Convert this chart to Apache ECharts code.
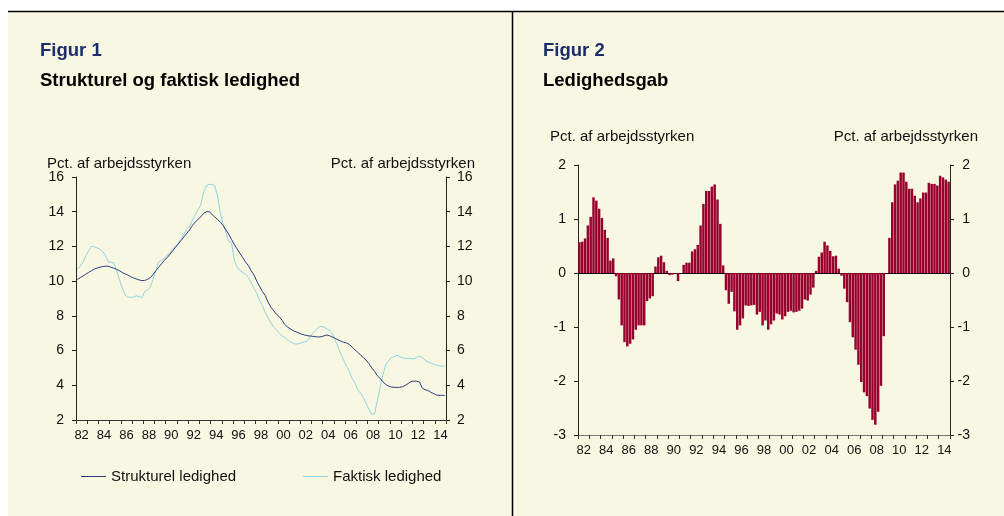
<!DOCTYPE html>
<html><head><meta charset="utf-8">
<script src="https://cdn.jsdelivr.net/npm/echarts@6/dist/echarts.min.js"></script>
<style>html,body{margin:0;padding:0;background:#fff}#c{width:1004px;height:516px}</style>
</head><body><div id="c"></div>
<script>
const yearLabels = ['82','83','84','85','86','87','88','89','90','91','92','93','94','95','96','97','98','99','00','01','02','03','04','05','06','07','08','09','10','11','12','13','14'];
const yTicksLeft = [2, 16, 2];   // min, max, interval
const yTicksGap = [-3, 2, 1];

// Strukturel ledighed, quarterly 1982K1-2014K4
const structural = [
 10.1,10.2,10.3,10.4, 10.5,10.6,10.7,10.75, 10.8,10.84,10.86,10.86, 10.8,10.74,10.68,10.6,
 10.5,10.42,10.35,10.26, 10.18,10.13,10.07,10.03, 10.04,10.1,10.2,10.38, 10.6,10.8,11.0,11.2,
 11.35,11.55,11.75,11.95, 12.15,12.35,12.55,12.75, 12.95,13.2,13.4,13.55, 13.7,13.9,14.0,14.0,
 13.85,13.7,13.55,13.4, 13.2,12.95,12.7,12.4, 12.1,11.85,11.6,11.35, 11.1,10.9,10.6,10.35,
 10.0,9.7,9.4,9.17, 8.8,8.5,8.3,8.1, 7.95,7.75,7.5,7.35, 7.25,7.15,7.08,7.01,
 6.95,6.9,6.86,6.84, 6.82,6.8,6.78,6.8, 6.85,6.9,6.85,6.78, 6.7,6.62,6.55,6.47,
 6.44,6.35,6.2,6.05, 5.9,5.75,5.6,5.45, 5.25,5.0,4.8,4.55, 4.4,4.2,4.05,3.95,
 3.9,3.88,3.88,3.88, 3.92,4.0,4.1,4.22, 4.24,4.23,4.2,3.85, 3.75,3.7,3.6,3.53,
 3.45,3.42,3.42,3.42
];
// Faktisk ledighed, quarterly 1982K1-2014K4
const actual = [
 10.7,10.85,11.1,11.45, 11.75,12.0,11.98,11.92, 11.85,11.7,11.5,11.1, 11.1,11.05,10.6,10.1,
 9.6,9.2,9.08,9.07, 9.08,9.16,9.1,9.04, 9.4,9.5,9.65,10.1, 10.6,11.1,11.2,11.3,
 11.5,11.6,11.85,12.0, 12.2,12.4,12.7,13.0, 13.15,13.5,13.8,14.1, 14.4,15.1,15.5,15.57,
 15.58,15.5,14.9,13.9, 13.3,12.8,12.3,12.2, 11.2,10.8,10.6,10.5, 10.4,10.2,9.9,9.6,
 9.3,8.9,8.6,8.2, 7.9,7.6,7.35,7.2, 7.0,6.85,6.75,6.6, 6.5,6.42,6.37,6.4,
 6.45,6.5,6.55,6.8, 7.0,7.15,7.35,7.4, 7.35,7.25,7.15,6.95, 6.6,6.2,5.8,5.45,
 5.1,4.8,4.4,4.15, 3.75,3.55,3.3,2.95, 2.6,2.33,2.35,3.1, 3.9,4.6,5.2,5.4,
 5.6,5.65,5.73,5.65, 5.58,5.55,5.54,5.54, 5.52,5.6,5.67,5.62, 5.45,5.35,5.29,5.22,
 5.16,5.12,5.1,5.1
];
// Ledighedsgab, quarterly 1982K1-2014K4
const gap = [
 0.57,0.58,0.64,0.88, 1.04,1.40,1.34,1.19, 1.02,0.80,0.65,0.23, 0.27,-0.06,-0.49,-0.97,
 -1.28,-1.36,-1.31,-1.23, -1.05,-0.97,-0.97,-0.97, -0.52,-0.47,-0.43,0.12, 0.29,0.32,0.20,0.04,
 -0.04,-0.03,-0.01,-0.15, 0.0,0.15,0.19,0.19, 0.40,0.44,0.52,0.88, 1.28,1.52,1.52,1.60,
 1.64,1.36,0.91,0.14, -0.32,-0.57,-0.35,-0.71, -1.05,-0.97,-0.84,-0.60, -0.61,-0.60,-0.59,-0.77,
 -0.72,-0.97,-0.88,-1.05, -0.95,-0.88,-0.75,-0.77, -0.86,-0.80,-0.72,-0.70, -0.73,-0.72,-0.70,-0.66,
 -0.49,-0.51,-0.40,-0.27, 0.04,0.30,0.38,0.58, 0.51,0.41,0.31,0.32, 0.08,-0.05,-0.29,-0.54,
 -0.91,-1.19,-1.42,-1.70, -2.02,-2.21,-2.28,-2.51, -2.72,-2.81,-2.57,-2.09, -1.17,0.0,0.65,1.31,
 1.64,1.71,1.86,1.86, 1.69,1.56,1.56,1.43, 1.31,1.38,1.49,1.49, 1.67,1.65,1.65,1.62,
 1.80,1.77,1.73,1.69
];

const quarters = [];
yearLabels.forEach(y => { for (let q = 1; q <= 4; q++) quarters.push(y + 'K' + q); });

const FONT = '"Liberation Sans", Arial, sans-serif';
const TXT = '#111111';
const CREAM = '#f8f7e1';
const C_STRUCT = '#2b3c7c';
const C_ACTUAL = '#8fd3e8';

function yearAxis(grid, lineColor) {
  return {
    type: 'category', gridIndex: grid, data: yearLabels, boundaryGap: true, position: 'bottom',
    axisLine: { show: true, onZero: false, lineStyle: { color: lineColor, width: 1 } },
    axisTick: { show: true, interval: 0, length: 4, lineStyle: { color: '#333' } },
    axisLabel: { interval: 1, fontSize: 13, color: TXT, margin: 9, fontFamily: FONT },
    splitLine: { show: false }
  };
}
function valAxis(grid, pos, t, labelExtra) {
  return Object.assign({
    type: 'value', gridIndex: grid, position: pos, min: t[0], max: t[1], interval: t[2],
    axisLine: { show: true, lineStyle: { color: '#222', width: 1 } },
    axisTick: { show: true, length: 4, lineStyle: { color: '#222' } },
    splitLine: { show: false }
  }, labelExtra);
}
const nameStyle = { fontSize: 15, fontWeight: 'normal', color: TXT, fontFamily: FONT };
const headStyle = { fontSize: 18.5, fontWeight: 'bold', color: '#1b2d6b', fontFamily: FONT };
const subStyle = { fontSize: 18.5, fontWeight: 'bold', color: '#000', fontFamily: FONT };

const chart = echarts.init(document.getElementById('c'), null, { renderer: 'canvas' });
chart.setOption({
  backgroundColor: '#ffffff',
  animation: false,
  textStyle: { fontFamily: FONT },
  graphic: [
    { type: 'rect', z: -100, silent: true, shape: { x: 8, y: 11, width: 996, height: 505 }, style: { fill: CREAM } },
    { type: 'line', z: 100, silent: true, shape: { x1: 8, y1: 11.5, x2: 1004, y2: 11.5 }, style: { stroke: '#000', lineWidth: 1.5 } },
    { type: 'line', z: 100, silent: true, shape: { x1: 512.5, y1: 11, x2: 512.5, y2: 516 }, style: { stroke: '#000', lineWidth: 1.5 } }
  ],
  title: [
    { text: 'Figur 1', left: 40, top: 41, padding: 0, textStyle: headStyle },
    { text: 'Strukturel og faktisk ledighed', left: 40, top: 71, padding: 0, textStyle: subStyle },
    { text: 'Figur 2', left: 543, top: 41, padding: 0, textStyle: headStyle },
    { text: 'Ledighedsgab', left: 543, top: 71, padding: 0, textStyle: subStyle },
    { text: 'Pct. af arbejdsstyrken', left: 47, top: 156, padding: 0, textStyle: nameStyle },
    { text: 'Pct. af arbejdsstyrken', right: 529, top: 156, padding: 0, textStyle: nameStyle },
    { text: 'Pct. af arbejdsstyrken', left: 550, top: 129, padding: 0, textStyle: nameStyle },
    { text: 'Pct. af arbejdsstyrken', right: 26, top: 129, padding: 0, textStyle: nameStyle }
  ],
  legend: {
    data: [
      { name: 'Strukturel ledighed', icon: 'rect', itemStyle: { color: C_STRUCT } },
      { name: 'Faktisk ledighed', icon: 'rect', itemStyle: { color: C_ACTUAL } }
    ],
    left: 81, top: 469, padding: 0,
    itemWidth: 25, itemHeight: 1, itemGap: 67,
    textStyle: { fontSize: 15, color: TXT, fontFamily: FONT }
  },
  grid: [
    { left: 76, top: 177, width: 370, height: 243 },
    { left: 578, top: 165, width: 372, height: 270 }
  ],
  xAxis: [
    yearAxis(0, '#333'),
    { type: 'category', gridIndex: 0, data: quarters, boundaryGap: true, show: false },
    yearAxis(1, '#777'),
    { type: 'category', gridIndex: 1, data: quarters, boundaryGap: true, show: true,
      axisLine: { show: true, onZero: true, lineStyle: { color: '#000', width: 1 } },
      axisTick: { show: false }, axisLabel: { show: false }, splitLine: { show: false } }
  ],
  yAxis: [
    valAxis(0, 'left', yTicksLeft, { axisLabel: { fontSize: 14, color: TXT, margin: 12, fontFamily: FONT } }),
    valAxis(0, 'right', yTicksLeft, { axisLabel: { fontSize: 14, color: TXT, margin: 11, fontFamily: FONT } }),
    valAxis(1, 'left', yTicksGap, { axisLabel: { fontSize: 14, color: TXT, margin: 12, fontFamily: FONT } }),
    valAxis(1, 'right', yTicksGap, { axisLabel: { fontSize: 14, color: TXT, margin: 20, align: 'right', fontFamily: FONT } })
  ],
  series: [
    { name: 'Faktisk ledighed', type: 'line', xAxisIndex: 1, yAxisIndex: 0, data: actual,
      symbol: 'none', color: C_ACTUAL, lineStyle: { color: C_ACTUAL, width: 1 } },
    { name: 'Strukturel ledighed', type: 'line', xAxisIndex: 1, yAxisIndex: 0, data: structural,
      symbol: 'none', color: C_STRUCT, lineStyle: { color: C_STRUCT, width: 1 } },
    { name: 'Ledighedsgab', type: 'bar', xAxisIndex: 3, yAxisIndex: 2, data: gap,
      barCategoryGap: '12%', itemStyle: { color: '#98002e' } }
  ]
});
</script></body></html>
